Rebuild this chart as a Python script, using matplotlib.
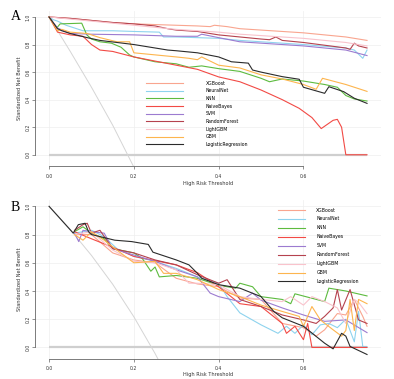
import matplotlib
matplotlib.use("Agg")
import matplotlib.pyplot as plt

models = ["XGBoost", "NeuralNet", "KNN", "NaiveBayes", "SVM",
          "RandomForest", "LightGBM", "GBM", "LogisticRegression"]
colors = ["#F9A58F", "#8ED3EE", "#5DBB3F", "#F24A45", "#9C7BD0",
          "#B5424E", "#F9C3CC", "#FDB54E", "#2B2B2B"]

x_ticks = [0.0, 0.2, 0.4, 0.6]
y_ticks = [0.0, 0.2, 0.4, 0.6, 0.8, 1.0]

# ---------------- Panel A ----------------
a_all_t = [0.0, 0.05, 0.1, 0.15, 0.2]
a_all_v = [1.0, 0.75, 0.49, 0.215, -0.09]
a_none_t = [0.0, 0.75]
a_none_v = [0.0, 0.0]

a_xgb_t = [0, 0.05, 0.1, 0.15, 0.2, 0.25, 0.3, 0.35, 0.38, 0.39, 0.42, 0.45, 0.5, 0.55, 0.6, 0.65, 0.7, 0.75]
a_xgb_v = [1.0, 0.99, 0.975, 0.96, 0.95, 0.945, 0.94, 0.935, 0.93, 0.94, 0.93, 0.915, 0.905, 0.895, 0.885, 0.87, 0.855, 0.83]
a_nn_t = [0, 0.01, 0.02, 0.04, 0.06, 0.08, 0.15, 0.2, 0.26, 0.27, 0.3, 0.35, 0.4, 0.45, 0.5, 0.6, 0.7, 0.72, 0.74, 0.75]
a_nn_v = [1.0, 0.98, 0.97, 0.94, 0.92, 0.9, 0.9, 0.895, 0.89, 0.855, 0.855, 0.85, 0.845, 0.83, 0.82, 0.8, 0.775, 0.76, 0.70, 0.76]
a_knn_t = [0, 0.018, 0.026, 0.077, 0.089, 0.1, 0.12, 0.147, 0.17, 0.19, 0.2, 0.25, 0.3, 0.33, 0.36, 0.4, 0.45, 0.5, 0.52, 0.55, 0.6, 0.65, 0.68, 0.7, 0.72, 0.75]
a_knn_v = [1.0, 0.92, 0.95, 0.955, 0.87, 0.84, 0.82, 0.81, 0.78, 0.724, 0.71, 0.675, 0.66, 0.635, 0.645, 0.625, 0.605, 0.555, 0.53, 0.55, 0.535, 0.51, 0.49, 0.43, 0.405, 0.39]
a_nb_t = [0, 0.02, 0.05, 0.08, 0.1, 0.12, 0.15, 0.2, 0.25, 0.3, 0.35, 0.4, 0.45, 0.5, 0.55, 0.59, 0.62, 0.642, 0.67, 0.68, 0.69, 0.70, 0.75]
a_nb_v = [1.0, 0.89, 0.87, 0.86, 0.8, 0.76, 0.75, 0.71, 0.68, 0.65, 0.62, 0.565, 0.53, 0.47, 0.4, 0.337, 0.27, 0.19, 0.25, 0.257, 0.2, 0.0, 0.0]
a_svm_t = [0, 0.02, 0.05, 0.1, 0.2, 0.3, 0.35, 0.36, 0.4, 0.45, 0.5, 0.6, 0.7, 0.75]
a_svm_v = [1.0, 0.92, 0.88, 0.875, 0.87, 0.86, 0.86, 0.875, 0.85, 0.82, 0.81, 0.79, 0.76, 0.72]
a_rf_t = [0, 0.05, 0.1, 0.15, 0.2, 0.25, 0.28, 0.3, 0.35, 0.4, 0.45, 0.5, 0.52, 0.535, 0.55, 0.6, 0.65, 0.7, 0.71, 0.72, 0.73, 0.75]
a_rf_v = [1.0, 0.99, 0.975, 0.96, 0.95, 0.935, 0.915, 0.905, 0.895, 0.87, 0.855, 0.84, 0.835, 0.855, 0.83, 0.815, 0.795, 0.775, 0.765, 0.81, 0.79, 0.775]
a_lgbm_t = [0, 0.05, 0.1, 0.15, 0.2, 0.25, 0.3, 0.35, 0.4, 0.45, 0.5, 0.55, 0.6, 0.65, 0.7, 0.75]
a_lgbm_v = [1.0, 0.985, 0.97, 0.955, 0.94, 0.925, 0.91, 0.9, 0.89, 0.875, 0.865, 0.855, 0.845, 0.83, 0.815, 0.79]
a_gbm_t = [0, 0.02, 0.03, 0.05, 0.09, 0.12, 0.16, 0.19, 0.2, 0.25, 0.3, 0.33, 0.35, 0.36, 0.4, 0.45, 0.5, 0.55, 0.6, 0.63, 0.645, 0.7, 0.75]
a_gbm_v = [1.0, 0.9, 0.91, 0.89, 0.88, 0.85, 0.82, 0.82, 0.74, 0.725, 0.71, 0.7, 0.69, 0.71, 0.65, 0.63, 0.58, 0.55, 0.51, 0.475, 0.555, 0.51, 0.46]
a_lr_t = [0, 0.02, 0.03, 0.05, 0.09, 0.12, 0.2, 0.28, 0.3, 0.35, 0.4, 0.43, 0.47, 0.48, 0.5, 0.55, 0.59, 0.6, 0.65, 0.66, 0.695, 0.72, 0.75]
a_lr_v = [1.0, 0.915, 0.9, 0.88, 0.85, 0.83, 0.8, 0.76, 0.755, 0.74, 0.71, 0.675, 0.665, 0.615, 0.6, 0.567, 0.548, 0.49, 0.446, 0.494, 0.458, 0.41, 0.373]

# ---------------- Panel B ----------------
b_all_t = [0.0, 0.05, 0.1, 0.15, 0.2, 0.25, 0.26]
b_all_v = [1.0, 0.835, 0.652, 0.448, 0.217, -0.043, -0.10]
b_none_t = [0.0, 0.75]
b_none_v = [0.0, 0.0]

b_xgb_t = [0.06, 0.1, 0.15, 0.2, 0.25, 0.3, 0.35, 0.4, 0.45, 0.5, 0.55, 0.6, 0.63, 0.65, 0.68, 0.7, 0.72, 0.74, 0.75]
b_xgb_v = [0.8, 0.8, 0.67, 0.62, 0.6, 0.49, 0.45, 0.43, 0.35, 0.34, 0.17, 0.14, 0.08, 0.125, 0.24, 0.23, 0.34, 0.22, 0.15]
b_nn_t = [0.06, 0.1, 0.13, 0.16, 0.2, 0.25, 0.3, 0.35, 0.4, 0.42, 0.45, 0.5, 0.54, 0.56, 0.58, 0.6, 0.62, 0.64, 0.66, 0.68, 0.7, 0.72, 0.73, 0.74, 0.75]
b_nn_v = [0.81, 0.83, 0.785, 0.70, 0.645, 0.61, 0.56, 0.5, 0.455, 0.36, 0.245, 0.16, 0.1, 0.15, 0.10, 0.16, 0.09, 0.16, 0.17, 0.14, 0.2, 0.04, 0.255, 0.005, 0.005]
b_knn_t = [0.06, 0.08, 0.1, 0.13, 0.15, 0.2, 0.22, 0.24, 0.25, 0.26, 0.3, 0.35, 0.4, 0.44, 0.45, 0.48, 0.5, 0.55, 0.57, 0.58, 0.65, 0.66, 0.7, 0.75]
b_knn_v = [0.82, 0.855, 0.81, 0.77, 0.7, 0.67, 0.63, 0.54, 0.57, 0.5, 0.51, 0.49, 0.44, 0.42, 0.455, 0.43, 0.36, 0.34, 0.31, 0.38, 0.325, 0.42, 0.4, 0.365]
b_nb_t = [0.06, 0.1, 0.15, 0.2, 0.3, 0.35, 0.4, 0.45, 0.5, 0.55, 0.56, 0.58, 0.6, 0.61, 0.62, 0.75]
b_nb_v = [0.82, 0.77, 0.71, 0.645, 0.585, 0.53, 0.43, 0.31, 0.29, 0.17, 0.1, 0.15, 0.055, 0.17, 0.0, 0.0]
b_svm_t = [0.06, 0.07, 0.08, 0.1, 0.13, 0.15, 0.2, 0.25, 0.3, 0.35, 0.38, 0.4, 0.45, 0.48, 0.5, 0.55, 0.6, 0.65, 0.7, 0.75]
b_svm_v = [0.81, 0.75, 0.83, 0.82, 0.81, 0.7, 0.655, 0.61, 0.55, 0.5, 0.385, 0.36, 0.325, 0.385, 0.335, 0.28, 0.23, 0.185, 0.195, 0.105]
b_rf_t = [0.06, 0.08, 0.09, 0.1, 0.12, 0.15, 0.2, 0.25, 0.3, 0.35, 0.4, 0.42, 0.45, 0.5, 0.55, 0.6, 0.63, 0.65, 0.67, 0.68, 0.69, 0.71, 0.73, 0.75]
b_rf_v = [0.83, 0.87, 0.88, 0.81, 0.83, 0.70, 0.67, 0.62, 0.585, 0.515, 0.455, 0.48, 0.34, 0.29, 0.23, 0.195, 0.17, 0.22, 0.28, 0.41, 0.265, 0.41, 0.195, 0.17]
b_lgbm_t = [0.06, 0.1, 0.15, 0.2, 0.25, 0.3, 0.33, 0.35, 0.4, 0.45, 0.5, 0.55, 0.57, 0.6, 0.62, 0.65, 0.68, 0.7, 0.72, 0.73, 0.75]
b_lgbm_v = [0.8, 0.82, 0.69, 0.61, 0.6, 0.55, 0.455, 0.455, 0.445, 0.36, 0.34, 0.325, 0.36, 0.3, 0.36, 0.325, 0.28, 0.17, 0.34, 0.32, 0.24]
b_gbm_t = [0.06, 0.08, 0.1, 0.13, 0.16, 0.2, 0.25, 0.27, 0.3, 0.35, 0.4, 0.45, 0.5, 0.55, 0.59, 0.6, 0.62, 0.64, 0.67, 0.69, 0.7, 0.71, 0.72, 0.73, 0.75]
b_gbm_v = [0.8, 0.76, 0.82, 0.76, 0.69, 0.6, 0.61, 0.525, 0.525, 0.48, 0.41, 0.36, 0.3, 0.255, 0.22, 0.15, 0.29, 0.195, 0.125, 0.08, 0.12, 0.34, 0.12, 0.34, 0.31]
b_lr_t = [0.0, 0.057, 0.069, 0.085, 0.093, 0.1, 0.155, 0.195, 0.234, 0.245, 0.3, 0.33, 0.35, 0.36, 0.4, 0.45, 0.5, 0.53, 0.55, 0.6, 0.65, 0.67, 0.69, 0.7, 0.71, 0.75]
b_lr_v = [1.0, 0.81, 0.87, 0.88, 0.82, 0.8, 0.76, 0.75, 0.73, 0.675, 0.62, 0.585, 0.525, 0.49, 0.445, 0.42, 0.36, 0.255, 0.21, 0.15, 0.03, -0.01, 0.10, 0.08, 0.007, -0.05]

panel_a = [(a_xgb_t, a_xgb_v), (a_nn_t, a_nn_v), (a_knn_t, a_knn_v), (a_nb_t, a_nb_v),
           (a_svm_t, a_svm_v), (a_rf_t, a_rf_v), (a_lgbm_t, a_lgbm_v), (a_gbm_t, a_gbm_v),
           (a_lr_t, a_lr_v)]
panel_b = [(b_xgb_t, b_xgb_v), (b_nn_t, b_nn_v), (b_knn_t, b_knn_v), (b_nb_t, b_nb_v),
           (b_svm_t, b_svm_v), (b_rf_t, b_rf_v), (b_lgbm_t, b_lgbm_v), (b_gbm_t, b_gbm_v),
           (b_lr_t, b_lr_v)]

W, H = 394, 379
fig = plt.figure(figsize=(W / 100, H / 100), dpi=100)
fig.patch.set_facecolor("white")

FS = 3.3
axcol = "#666666"


def setup(ax, ylo, xpad, xlpad):
    ax.set_xlim(-0.0325, 0.7825)
    ax.set_ylim(ylo, 1.042)
    ax.set_xticks(x_ticks)
    ax.set_yticks(y_ticks)
    ax.set_xticklabels([f"{v:.1f}" for v in x_ticks], fontsize=FS, color="#333333")
    ax.set_yticklabels([f"{v:.1f}" for v in y_ticks], fontsize=FS, color="#333333",
                       rotation=90, va="center")
    ax.grid(True, color="#EEEEEE", lw=0.5)
    ax.set_axisbelow(True)
    for s in ["top", "right"]:
        ax.spines[s].set_visible(False)
    ax.spines["left"].set_bounds(0, 1.0)
    ax.spines["bottom"].set_bounds(0, 0.6)
    for s in ["left", "bottom"]:
        ax.spines[s].set_color(axcol)
        ax.spines[s].set_linewidth(0.6)
    ax.tick_params(axis="both", direction="out", length=2.0, width=0.5, color=axcol)
    ax.tick_params(axis="x", pad=xpad)
    ax.tick_params(axis="y", pad=1.5)
    ax.set_xlabel("High Risk Threshold", fontsize=FS + 0.3, labelpad=xlpad, color="#333333")
    ax.set_ylabel("Standardized Net Benefit", fontsize=FS + 0.3, labelpad=2.5, color="#333333")


def draw(ax, data, all_t, all_v, none_t, none_v):
    ax.plot(none_t, none_v, color="#CFCFCF", lw=1.6, solid_capstyle="butt")
    ax.plot(all_t, all_v, color="#D5D5D5", lw=0.7)
    lines = []
    for (t, v), c, name in zip(data, colors, models):
        ln, = ax.plot(t, v, color=c, lw=0.8, label=name)
        lines.append(ln)
    return lines


# Panel A axes
axA = fig.add_axes([35.3 / W, 1 - 166 / H, 345.5 / W, (166 - 11.2) / H])
setup(axA, -0.0816, 4, 1.5)
la = draw(axA, panel_a, a_all_t, a_all_v, a_none_t, a_none_v)
axA.legend(handles=la, loc="upper left", bbox_to_anchor=(0.32, 0.552), frameon=False,
           fontsize=FS, handlelength=8.0, handletextpad=5.0, labelspacing=0.58,
           borderpad=0, borderaxespad=0)

# Panel B axes
axB = fig.add_axes([35.3 / W, 1 - 359 / H, 345.5 / W, (359 - 200.4) / H])
setup(axB, -0.082, 3, 0.8)
lb = draw(axB, panel_b, b_all_t, b_all_v, b_none_t, b_none_v)
axB.legend(handles=lb, loc="upper left", bbox_to_anchor=(0.702, 0.955), frameon=False,
           fontsize=FS, handlelength=6.0, handletextpad=2.4, labelspacing=0.86,
           borderpad=0, borderaxespad=0)

fig.text(11 / W, 1 - 17 / H, "A", fontsize=10, family="Liberation Serif", va="center", ha="left")
fig.text(11 / W, 1 - 207 / H, "B", fontsize=10, family="Liberation Serif", va="center", ha="left")

fig.savefig("out.png", dpi=100, facecolor="white")
